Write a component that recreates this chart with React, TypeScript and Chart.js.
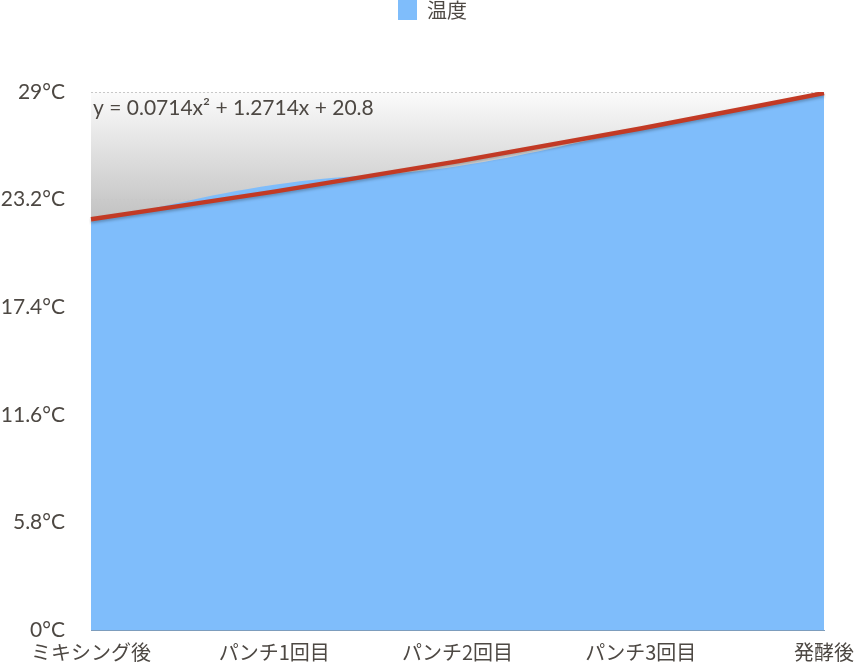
import React, { useEffect, useRef } from "react";
import { Chart, registerables } from "chart.js";

Chart.register(...registerables);

const categories = ["ミキシング後", "パンチ1回目", "パンチ2回目", "パンチ3回目", "発酵後"];
const temperatures = [22, 24, 25, 27, 29];
const trendValues = [22.14, 23.63, 25.26, 27.03, 28.94];
const yTicks = [0, 5.8, 11.6, 17.4, 23.2, 29];
const yTickLabels = ["0°C", "5.8°C", "11.6°C", "17.4°C", "23.2°C", "29°C"];
const seriesName = "温度";
const equationText = "y = 0.0714x² + 1.2714x + 20.8";

const TEXT = "#4d4843";
const NUM_FONT = "Lato, 'Noto Sans', sans-serif";
const CJK_FONT = "'Noto Sans CJK JP', 'Noto Sans', sans-serif";

export default function App() {
  const ref = useRef<HTMLCanvasElement | null>(null);

  useEffect(() => {
    document.body.style.margin = "0";
    const canvas = ref.current;
    if (!canvas) return;

    const bgPlugin = {
      id: "bgGradient",
      beforeDraw(chart: any) {
        const { ctx, chartArea } = chart;
        const y = chart.scales.y;
        const g = ctx.createLinearGradient(0, chartArea.top, 0, y.getPixelForValue(21.5));
        g.addColorStop(0, "#fbfbfb");
        g.addColorStop(1, "#bcbcbc");
        ctx.save();
        ctx.fillStyle = g;
        ctx.fillRect(chartArea.left, chartArea.top, chartArea.right - chartArea.left, chartArea.bottom - chartArea.top);
        ctx.restore();
      },
    };

    const legendSpace = {
      id: "legendSpace",
      beforeInit(chart: any) {
        const legend = chart.legend;
        if (!legend) return;
        const orig = legend.fit;
        legend.fit = function () {
          orig.call(this);
          this.height = 92;
        };
      },
      afterLayout(chart: any) {
        const legend = chart.legend;
        if (!legend) return;
        legend.left = 8;
        legend.right = 857;
      },
    };

    const shadowPlugin = {
      id: "trendShadow",
      beforeDatasetDraw(chart: any, args: any) {
        if (args.index === 1) {
          const ctx = chart.ctx;
          ctx.save();
          ctx.shadowColor = "rgba(0,0,0,0.25)";
          ctx.shadowBlur = 3;
          ctx.shadowOffsetY = 2;
        }
      },
      afterDatasetDraw(chart: any, args: any) {
        if (args.index === 1) chart.ctx.restore();
      },
    };

    const equationPlugin = {
      id: "equation",
      afterDraw(chart: any) {
        const { ctx, chartArea } = chart;
        ctx.save();
        ctx.font = `21px ${NUM_FONT}`;
        ctx.fillStyle = TEXT;
        ctx.textAlign = "left";
        ctx.textBaseline = "middle";
        ctx.fillText(equationText, chartArea.left + 2, chartArea.top + 16);
        ctx.restore();
      },
    };

    const chart = new Chart(canvas, {
      type: "line",
      data: {
        labels: categories,
        datasets: [
          {
            label: seriesName,
            data: temperatures,
            fill: "origin",
            backgroundColor: "#7fbdfb",
            borderColor: "#7fbdfb",
            borderWidth: 0,
            pointRadius: 0,
            tension: 0.4,
            order: 2,
          },
          {
            label: "trend",
            data: trendValues,
            fill: false,
            borderColor: "#c23a25",
            borderWidth: 4.5,
            pointRadius: 0,
            cubicInterpolationMode: "monotone",
            order: 1,
          },
        ],
      },
      options: {
        responsive: false,
        animation: false,
        layout: { padding: { left: 0, right: 33, top: 0, bottom: 0 } },
        plugins: {
          legend: {
            position: "top",
            labels: {
              boxWidth: 19,
              boxHeight: 20,
              padding: 0,
              color: TEXT,
              font: { family: CJK_FONT, size: 20 },
              filter: (item: any) => item.datasetIndex === 0,
            },
          },
          tooltip: { enabled: false },
        },
        scales: {
          x: {
            afterFit(scale: any) {
              scale.height = 40;
              scale.paddingLeft = 0;
              scale.paddingRight = 0;
            },
            grid: { display: false, drawTicks: false },
            border: { display: true, color: "#7d9dbd", width: 1 },
            ticks: {
              color: TEXT,
              font: { family: CJK_FONT, size: 20 },
              padding: 10,
              maxRotation: 0,
              autoSkip: false,
            },
          },
          y: {
            min: 0,
            max: 29,
            afterFit(scale: any) {
              scale.width = 91;
            },
            afterBuildTicks(scale: any) {
              scale.ticks = yTicks.map((v) => ({ value: v }));
            },
            grid: { color: "#c8c8c8", lineWidth: 1, drawTicks: false },
            border: { display: false, dash: [2, 2] },
            ticks: {
              color: TEXT,
              font: { family: NUM_FONT, size: 21 },
              padding: 26,
              callback: (_v: any, i: number) => yTickLabels[i],
            },
          },
        },
      },
      plugins: [bgPlugin, legendSpace, shadowPlugin, equationPlugin],
    } as any);

    return () => chart.destroy();
  }, []);

  return (
    <div style={{ width: 857, height: 670 }}>
      <canvas ref={ref} width={857} height={670} style={{ width: 857, height: 670, display: "block" }} />
    </div>
  );
}
